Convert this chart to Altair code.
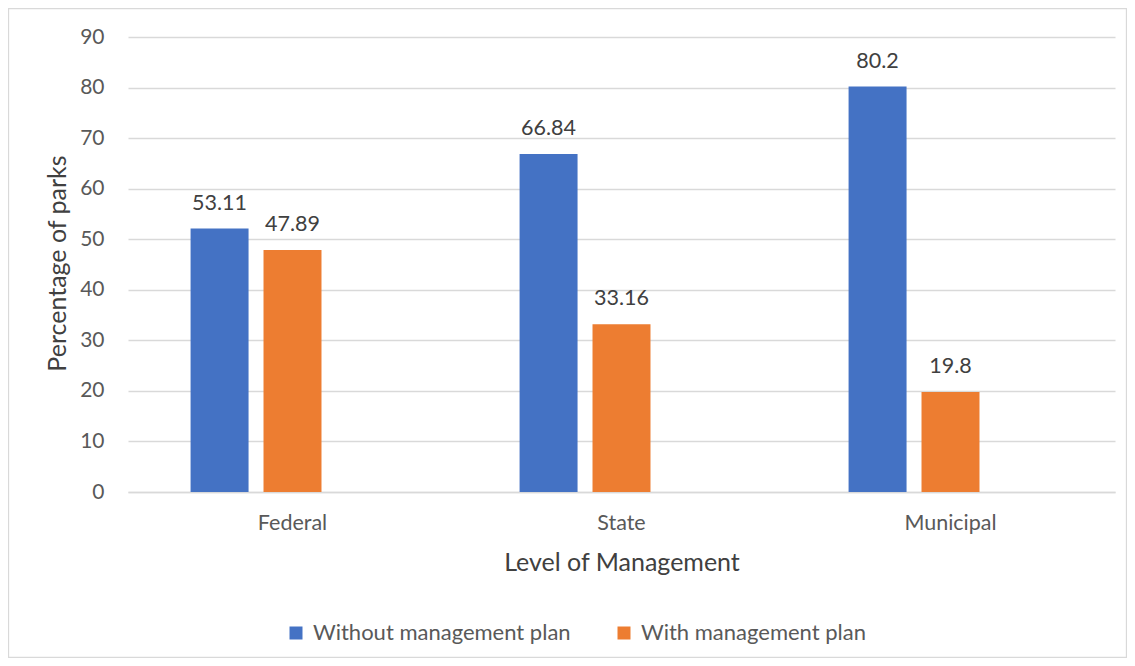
import altair as alt
import pandas as pd

categories = ["Federal", "State", "Municipal"]
series = ["Without management plan", "With management plan"]
without_values = [52.11, 66.84, 80.2]
with_values = [47.89, 33.16, 19.8]
without_labels = ["53.11", "66.84", "80.2"]
with_labels = ["47.89", "33.16", "19.8"]
y_ticks = [0, 10, 20, 30, 40, 50, 60, 70, 80, 90]
colors = ["#4472C4", "#ED7D31"]

rows = []
for i, c in enumerate(categories):
    rows.append({"cat": c, "series": series[0], "value": without_values[i], "label": without_labels[i]})
    rows.append({"cat": c, "series": series[1], "value": with_values[i], "label": with_labels[i]})
df = pd.DataFrame(rows)

FONT = "Lato"
GREY = "#595959"

x_enc = alt.X(
    "cat:N",
    sort=categories,
    scale=alt.Scale(paddingInner=0, paddingOuter=0),
    axis=alt.Axis(
        title="Level of Management",
        labelAngle=0,
        labelFont=FONT,
        labelFontSize=21.5,
        labelColor=GREY,
        labelPadding=20,
        ticks=False,
        tickSize=0,
        domain=True,
        domainColor="#d9d9d9",
        domainWidth=1.3,
        grid=False,
        titleFont=FONT,
        titleFontSize=25,
        titleFontWeight="normal",
        titleColor="#404040",
        titleBaseline="alphabetic",
        titleY=78,
    ),
)
xoff_enc = alt.XOffset(
    "series:N",
    scale=alt.Scale(domain=series + ["(blank)"], paddingInner=0.205, paddingOuter=0.858),
)

base = alt.Chart(df).encode(x=x_enc, xOffset=xoff_enc)

bars = base.mark_bar().encode(
    y=alt.Y(
        "value:Q",
        scale=alt.Scale(domain=[0, 90], nice=False),
        axis=alt.Axis(
            values=y_ticks,
            title="Percentage of parks",
            titleFont=FONT,
            titleFontSize=25,
            titleFontWeight="normal",
            titleColor="#404040",
            titleAngle=270,
            titleX=-71,
            titleY=226,
            titleAlign="center",
            titleBaseline="middle",
            labelFont=FONT,
            labelFontSize=21,
            labelColor=GREY,
            labelPadding=24,
            ticks=False,
            tickSize=0,
            domain=False,
            grid=True,
            gridColor="#d9d9d9",
            gridWidth=1.3,
        ),
    ),
    color=alt.Color(
        "series:N",
        scale=alt.Scale(domain=series, range=colors),
        legend=alt.Legend(
            title=None,
            orient="none",
            legendX=157,
            legendY=585,
            direction="horizontal",
            columns=2,
            symbolType="square",
            symbolSize=169,
            symbolStrokeWidth=0,
            labelFont=FONT,
            labelFontSize=22,
            labelColor=GREY,
            labelOffset=6,
            labelLimit=0,
            columnPadding=42,
            padding=0,
        ),
    ),
)

text = base.mark_text(font=FONT, fontSize=21.5, color="#404040", baseline="middle", dy=-25).encode(
    y=alt.Y("value:Q"),
    text="label:N",
)

frame = alt.Chart(pd.DataFrame({"f": [0]})).mark_rect(
    fill=None, stroke="#d9d9d9", strokeWidth=1.3
).encode(
    x=alt.value(-119.5), x2=alt.value(998.5), y=alt.value(-28.5), y2=alt.value(620.5)
)

chart = alt.layer(frame, bars, text).properties(
    width=987,
    height=455,
    padding={"left": 120, "top": 29, "right": 12, "bottom": 166},
    autosize=alt.AutoSizeParams(type="none"),
    background="white",
).configure_view(stroke=None)

chart.save("out.html", embed_options={"renderer": "svg", "actions": False})
